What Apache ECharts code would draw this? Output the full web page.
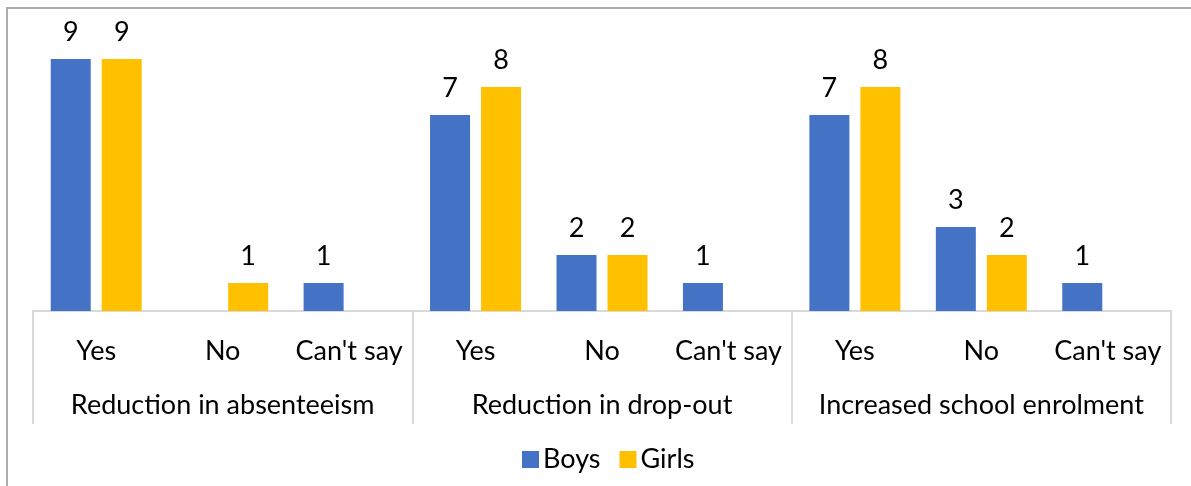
<!DOCTYPE html>
<html>
<head>
<meta charset="utf-8">
<script src="https://cdn.jsdelivr.net/npm/echarts@6/dist/echarts.min.js"></script>
<style>
  html, body { margin: 0; padding: 0; background: #fff; }
  #chart { width: 1191px; height: 486px; }
</style>
</head>
<body>
<div id="chart"></div>
<script>
// Responses per outcome, split by answer and gender
const groups = ['Reduction in absenteeism', 'Reduction in drop-out', 'Increased school enrolment'];
const answers = ['Yes', 'No', "Can't say"];
const boys  = [9, 0, 1,  7, 2, 1,  7, 3, 1];
const girls = [9, 1, 0,  8, 2, 0,  8, 2, 0];

const categories = [];
groups.forEach(g => answers.forEach(a => categories.push(a)));

const FONT = 'Lato';
const TEXT = '#000000';
const SIZE = 27;

const chart = echarts.init(document.getElementById('chart'), null, { renderer: 'canvas' });

const valueLabel = {
  show: true,
  position: 'top',
  distance: 13,
  fontFamily: FONT,
  fontSize: SIZE,
  color: TEXT,
  formatter: p => (p.value === 0 ? '' : String(p.value))
};

chart.setOption({
  animation: false,
  textStyle: { fontFamily: FONT },
  grid: { left: 33, right: 20, top: 31, bottom: 175, containLabel: false },
  graphic: [{
    type: 'rect',
    shape: { x: 7, y: 8, width: 1200, height: 500 },
    style: { fill: 'none', stroke: '#ADADAD', lineWidth: 2 },
    silent: true
  }],
  legend: {
    data: ['Boys', 'Girls'],
    left: 522,
    top: 446,
    padding: 0,
    itemWidth: 17,
    itemHeight: 17,
    itemGap: 19,
    icon: 'rect',
    textStyle: { fontFamily: FONT, fontSize: SIZE, color: TEXT, padding: [0, 0, 0, -1] }
  },
  xAxis: [
    {
      type: 'category',
      data: categories,
      position: 'bottom',
      axisLine: { show: true, lineStyle: { color: '#D9D9D9', width: 2 } },
      axisTick: { show: false },
      axisLabel: { interval: 0, margin: 27, fontFamily: FONT, fontSize: SIZE, color: TEXT }
    },
    {
      type: 'category',
      data: groups,
      position: 'bottom',
      gridIndex: 0,
      axisLine: { show: false },
      axisTick: { show: true, length: 113, interval: 0, lineStyle: { color: '#D9D9D9', width: 2 } },
      axisLabel: { interval: 0, margin: 81, fontFamily: FONT, fontSize: SIZE, color: TEXT }
    }
  ],
  yAxis: {
    type: 'value',
    min: 0,
    max: 10,
    interval: 2,
    show: false,
    splitLine: { show: false }
  },
  series: [
    {
      name: 'Boys',
      type: 'bar',
      xAxisIndex: 0,
      data: boys,
      barWidth: 40,
      barGap: '27.5%',
      itemStyle: { color: '#4472C4' },
      label: valueLabel
    },
    {
      name: 'Girls',
      type: 'bar',
      xAxisIndex: 0,
      data: girls,
      barWidth: 40,
      barGap: '27.5%',
      itemStyle: { color: '#FFC000' },
      label: valueLabel
    }
  ]
});
</script>
</body>
</html>
